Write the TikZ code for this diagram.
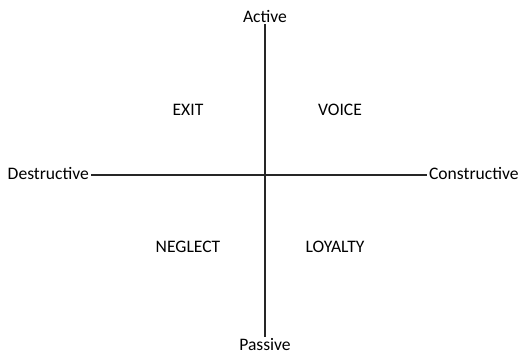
\documentclass[tikz,border=0pt]{standalone}
\usepackage{fontspec}
\setmainfont{Carlito}
\usetikzlibrary{positioning}

\begin{document}
\begin{tikzpicture}[
    x=0.02cm, y=0.02cm,
    axislabel/.style={font=\fontsize{10}{12}\selectfont, inner sep=1pt},
    quadrant/.style={font=\fontsize{10}{12}\selectfont},
    axis/.style={line width=1.5pt, black!85}
]
\useasboundingbox (0,0) rectangle (519,353);
\node[axislabel] (act) at (265,337) {Active};
\node[axislabel] (pas) at (265,8) {Passive};
\node[axislabel, anchor=east] (des) at (91,180) {Destructive};
\node[axislabel, anchor=west] (con) at (427,180) {Constructive};
\node[quadrant] (exit) at (188,243) {EXIT};
\node[quadrant] (voice) at (340,243) {VOICE};
\node[quadrant] (neglect) at (188,106) {NEGLECT};
\node[quadrant] (loyalty) at (335,106) {LOYALTY};
\draw[axis] (act.south) -- (pas.north);
\draw[axis] (des.east |- 0,178) -- (con.west |- 0,178);
\end{tikzpicture}
\end{document}
